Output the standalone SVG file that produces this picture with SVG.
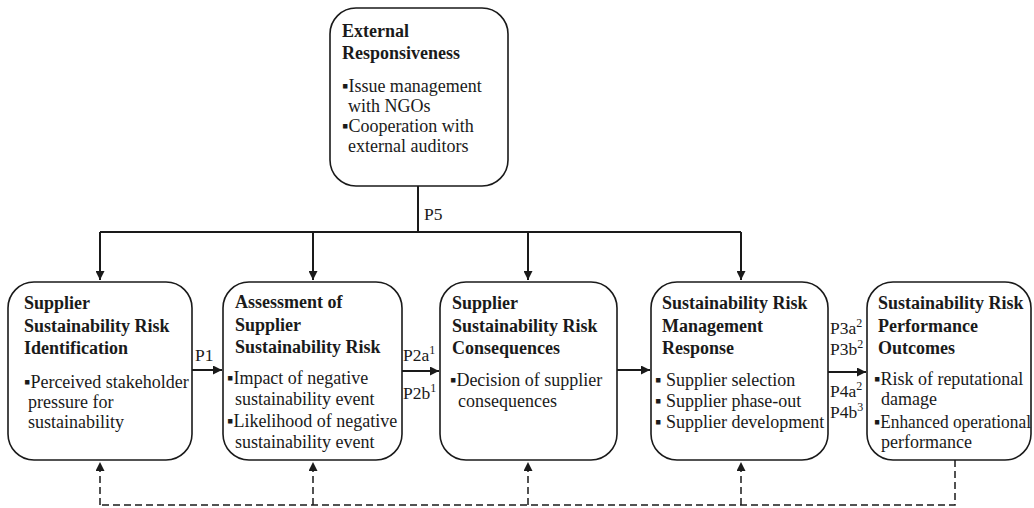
<svg xmlns="http://www.w3.org/2000/svg" width="1034" height="508" viewBox="0 0 1034 508">
  <defs>
    <marker id="arrow" viewBox="0 0 10 10" refX="10" refY="5" markerWidth="9" markerHeight="9" markerUnits="userSpaceOnUse" orient="auto">
      <path d="M0,0 L10,5 L0,10 z" fill="#1a1a1a"/>
    </marker>
    <style>
      text { font-family: 'Liberation Serif', 'DejaVu Serif', serif; fill: #1a1a1a; }
      .box { fill: #ffffff; stroke: #1a1a1a; stroke-width: 1.6; }
      .title { font-weight: bold; font-size: 18px; }
      .item { font-size: 18px; }
      .lbl { font-size: 17.5px; }
      .sup { font-size: 12px; }
      .link { fill: none; stroke: #1a1a1a; stroke-width: 2; }
      .fb { fill: none; stroke: #1a1a1a; stroke-width: 1.5; stroke-dasharray: 7 4; }
    </style>
  </defs>

  <!-- top node -->
  <g id="external-responsiveness">
    <rect class="box" x="330" y="8" width="178" height="178" rx="26" ry="26"/>
    <text class="title" x="342" y="37">External</text>
    <text class="title" x="342" y="59">Responsiveness</text>
    <text class="item" x="342" y="92">▪Issue management</text>
    <text class="item" x="348" y="112">with NGOs</text>
    <text class="item" x="342" y="132">▪Cooperation with</text>
    <text class="item" x="348" y="152">external auditors</text>
  </g>

  <!-- process chain nodes -->
  <g id="risk-identification">
    <rect class="box" x="8" y="282" width="184" height="178" rx="26" ry="26"/>
    <text class="title" x="24" y="309">Supplier</text>
    <text class="title" x="24" y="332">Sustainability Risk</text>
    <text class="title" x="24" y="354">Identification</text>
    <text class="item" x="24" y="388">▪Perceived stakeholder</text>
    <text class="item" x="28" y="408">pressure for</text>
    <text class="item" x="28" y="428">sustainability</text>
  </g>

  <g id="risk-assessment">
    <rect class="box" x="223" y="282" width="179" height="178" rx="26" ry="26"/>
    <text class="title" x="235" y="308">Assessment of</text>
    <text class="title" x="235" y="331">Supplier</text>
    <text class="title" x="235" y="353">Sustainability Risk</text>
    <text class="item" x="227" y="384">▪Impact of negative</text>
    <text class="item" x="235" y="405">sustainability event</text>
    <text class="item" x="227" y="427">▪Likelihood of negative</text>
    <text class="item" x="235" y="448">sustainability event</text>
  </g>

  <g id="risk-consequences">
    <rect class="box" x="440" y="282" width="177" height="178" rx="26" ry="26"/>
    <text class="title" x="452" y="309">Supplier</text>
    <text class="title" x="452" y="332">Sustainability Risk</text>
    <text class="title" x="452" y="354">Consequences</text>
    <text class="item" x="450" y="386">▪Decision of supplier</text>
    <text class="item" x="458" y="407">consequences</text>
  </g>

  <g id="management-response">
    <rect class="box" x="651" y="282" width="177" height="178" rx="26" ry="26"/>
    <text class="title" x="662" y="309">Sustainability Risk</text>
    <text class="title" x="662" y="332">Management</text>
    <text class="title" x="662" y="354">Response</text>
    <text class="item" x="655" y="386">▪ Supplier selection</text>
    <text class="item" x="655" y="407">▪ Supplier phase-out</text>
    <text class="item" x="655" y="428">▪ Supplier development</text>
  </g>

  <g id="performance-outcomes">
    <rect class="box" x="867" y="282" width="164" height="178" rx="26" ry="26"/>
    <text class="title" x="878" y="309">Sustainability Risk</text>
    <text class="title" x="878" y="332">Performance</text>
    <text class="title" x="878" y="354">Outcomes</text>
    <text class="item" x="874" y="385">▪Risk of reputational</text>
    <text class="item" x="881" y="405">damage</text>
    <text class="item" x="874" y="428" textLength="157" lengthAdjust="spacingAndGlyphs">▪Enhanced operational</text>
    <text class="item" x="881" y="448">performance</text>
  </g>

  <!-- connectors -->
  <g id="connectors">
    <!-- P5 distribution from the top node -->
    <path class="link" d="M418,186 V232"/>
    <path class="link" d="M100,232 H741"/>
    <path class="link" d="M100,232 V280" marker-end="url(#arrow)"/>
    <path class="link" d="M313,232 V280" marker-end="url(#arrow)"/>
    <path class="link" d="M528,232 V280" marker-end="url(#arrow)"/>
    <path class="link" d="M741,232 V280" marker-end="url(#arrow)"/>
    <text class="lbl" x="424" y="220">P5</text>

    <!-- chain arrows -->
    <path class="link" d="M192,370 H222" marker-end="url(#arrow)"/>
    <text class="lbl" x="195" y="361">P1</text>

    <path class="link" d="M402,371 H439" marker-end="url(#arrow)"/>
    <text class="lbl" x="403" y="361">P2a<tspan class="sup" dy="-7">1</tspan></text>
    <text class="lbl" x="403" y="399">P2b<tspan class="sup" dy="-7">1</tspan></text>

    <path class="link" d="M617,370 H650" marker-end="url(#arrow)"/>

    <path class="link" d="M828,372 H866" marker-end="url(#arrow)"/>
    <text class="lbl" x="830" y="334">P3a<tspan class="sup" dy="-7">2</tspan></text>
    <text class="lbl" x="830" y="355">P3b<tspan class="sup" dy="-7">2</tspan></text>
    <text class="lbl" x="830" y="397">P4a<tspan class="sup" dy="-7">2</tspan></text>
    <text class="lbl" x="830" y="418">P4b<tspan class="sup" dy="-7">3</tspan></text>

    <!-- dashed feedback loop -->
    <path class="fb" d="M955,460 V505 H100"/>
    <path class="fb" d="M100,505 V462" marker-end="url(#arrow)"/>
    <path class="fb" d="M313,505 V462" marker-end="url(#arrow)"/>
    <path class="fb" d="M528,505 V462" marker-end="url(#arrow)"/>
    <path class="fb" d="M741,505 V462" marker-end="url(#arrow)"/>
  </g>
</svg>
